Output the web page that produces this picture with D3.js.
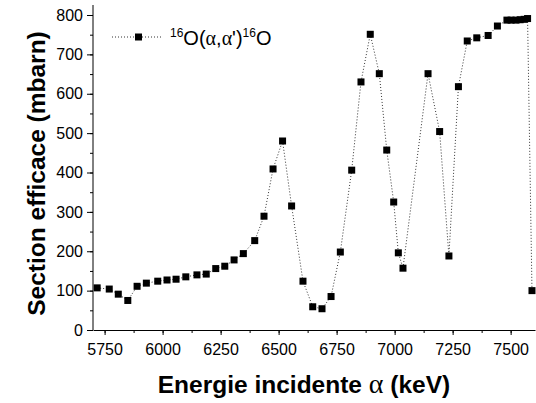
<!DOCTYPE html>
<html><head><meta charset="utf-8">
<script src="https://cdn.jsdelivr.net/npm/d3@7"></script>
<style>body{margin:0;background:#fff}svg{display:block}</style>
</head><body>
<script>
const energy = [5718,5770,5809,5850,5890,5930,5979,6019,6058,6100,6148,6188,6229,6268,6308,6348,6397,6437,6476,6517,6556,6605,6647,6687,6726,6766,6815,6855,6895,6934,6966,6996,7016,7036,7144,7194,7234,7275,7313,7354,7403,7443,7484,7502,7523,7541,7558,7573,7592];
const sigma  = [107,104,91,75,111,119,124,127,129,135,140,142,156,162,178,194,227,289,409,480,315,124,59,54,85,198,406,630,751,651,457,325,196,157,651,504,188,618,734,742,748,772,787,787,787,788,789,791,100];
const xTicks = [5750,6000,6250,6500,6750,7000,7250,7500];
const yTicks = [0,100,200,300,400,500,600,700,800];
const xTitle = "Energie incidente ";
const yTitle = "Section efficace (mbarn)";

const W=536,H=403;
const FONT="Liberation Sans, Arial, sans-serif";
const SERIF="Liberation Serif, Times New Roman, serif";
const svg=d3.select("body").append("svg").attr("width",W).attr("height",H);
const x=d3.scaleLinear().domain([5700,7605]).range([93,535]);
const y=d3.scaleLinear().domain([0,800]).range([330,15]);

// axes
const xMinor=d3.range(5750,7610,125);
const yMinor=d3.range(0,801,50);
const gx=svg.append("g").attr("transform","translate(0,330)");
gx.call(d3.axisBottom(x).tickValues(xMinor).tickSize(3).tickFormat(""));
gx.call(g=>g.select(".domain").remove());
const gx2=svg.append("g").attr("transform","translate(0,330)");
gx2.call(d3.axisBottom(x).tickValues(xTicks).tickSize(5).tickSizeOuter(0).tickPadding(9).tickFormat(d3.format("d")));
gx2.selectAll("text").attr("font-family",FONT).attr("font-size",16).attr("fill","#000");
gx2.selectAll("line,path").attr("stroke","#000");
gx.selectAll("line").attr("stroke","#000");

const gy=svg.append("g").attr("transform","translate(93,0)");
gy.call(d3.axisLeft(y).tickValues(yMinor).tickSize(3).tickFormat(""));
gy.call(g=>g.select(".domain").remove());
const gy2=svg.append("g").attr("transform","translate(93,0)");
gy2.call(d3.axisLeft(y).tickValues(yTicks).tickSize(6).tickSizeOuter(0).tickPadding(4).tickFormat(d3.format("d")));
gy2.selectAll("text").attr("font-family",FONT).attr("font-size",16).attr("fill","#000");
gy2.selectAll("line,path").attr("stroke","#000");
gy.selectAll("line").attr("stroke","#000");
gy2.select(".domain").attr("d","M0,5V330");

// line
const pts=energy.map((e,i)=>[e,sigma[i]]);
svg.append("path").datum(pts)
  .attr("d",d3.line().x(d=>x(d[0])).y(d=>y(d[1])))
  .attr("fill","none").attr("stroke","#333").attr("stroke-width",1).attr("stroke-dasharray","1,2");
const s=7;
svg.append("g").selectAll("rect").data(pts).join("rect")
  .attr("x",d=>x(d[0])-s/2).attr("y",d=>y(d[1])-s/2).attr("width",s).attr("height",s).attr("fill","#000");

// legend
svg.append("line").attr("x1",112).attr("x2",163).attr("y1",37).attr("y2",37)
  .attr("stroke","#333").attr("stroke-dasharray","1,2");
svg.append("rect").attr("x",138.5-s/2).attr("y",37-s/2).attr("width",s).attr("height",s).attr("fill","#000");
const lt=svg.append("text").attr("x",170).attr("y",45).attr("font-family",FONT).attr("font-size",20).attr("fill","#000");
lt.append("tspan").text("16").attr("font-size",12).attr("dy",-8);
lt.append("tspan").text("O(").attr("dy",8);
lt.append("tspan").text("α").attr("font-family",SERIF);
lt.append("tspan").text(",");
lt.append("tspan").text("α").attr("font-family",SERIF);
lt.append("tspan").text("')");
lt.append("tspan").text("16").attr("font-size",12).attr("dy",-8);
lt.append("tspan").text("O").attr("dy",8);

// titles
const xt=svg.append("text").attr("x",304).attr("y",393).attr("text-anchor","middle")
  .attr("font-family",FONT).attr("font-size",24.5).attr("font-weight","bold").attr("fill","#000");
xt.append("tspan").text(xTitle);
xt.append("tspan").text("α").attr("font-family",SERIF).attr("font-weight","normal").attr("font-size",28);
xt.append("tspan").text(" (keV)");
svg.append("text").attr("transform","translate(45,173.5) rotate(-90)").attr("text-anchor","middle")
  .attr("font-family",FONT).attr("font-size",24.5).attr("font-weight","bold").attr("fill","#000")
  .text(yTitle);
</script>
</body></html>
